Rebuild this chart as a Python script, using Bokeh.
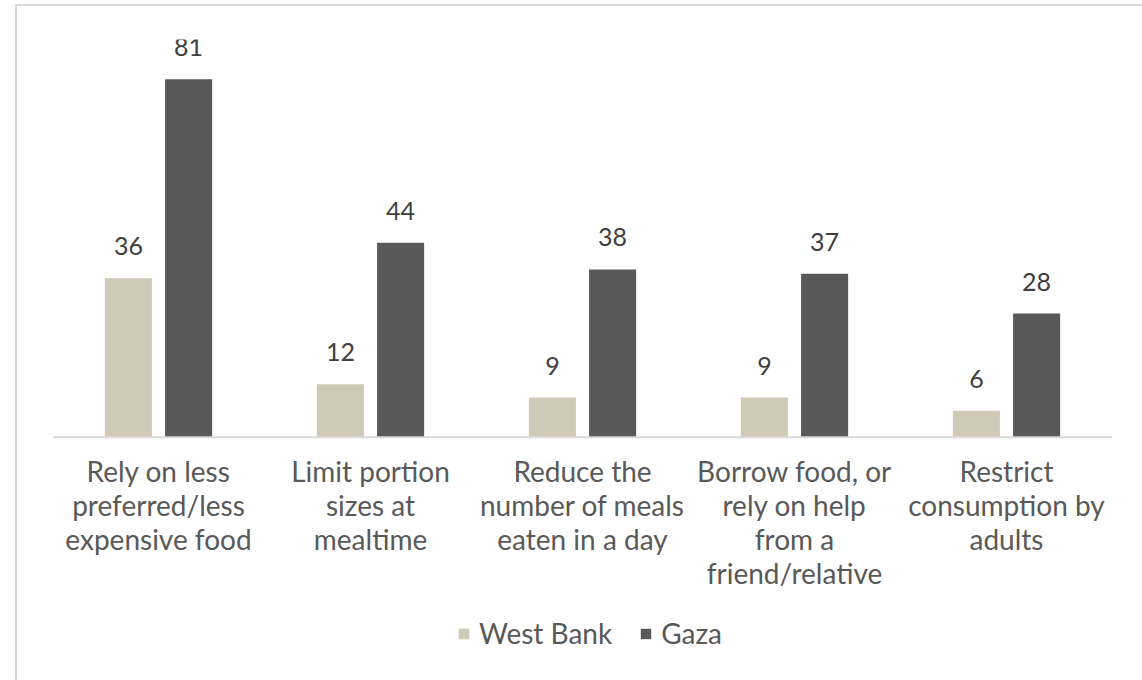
from bokeh.plotting import figure
from bokeh.models import FactorRange, ColumnDataSource, Legend, LegendItem, Span
from bokeh.transform import dodge
from bokeh.embed import file_html
from bokeh.resources import INLINE
from bokeh.core.properties import value

categories = [
    "Rely on less\npreferred/less\nexpensive food",
    "Limit portion\nsizes at\nmealtime",
    "Reduce the\nnumber of meals\neaten in a day",
    "Borrow food, or\nrely on help\nfrom a\nfriend/relative",
    "Restrict\nconsumption by\nadults",
]
west_bank = [36, 12, 9, 9, 6]
gaza = [81, 44, 38, 37, 28]
series_names = ["West Bank", "Gaza"]
series_colors = ["#d0c9b7", "#595959"]

FONT = "Lato"
TXT = "#595959"

source = ColumnDataSource(dict(
    cat=categories,
    wb=west_bank,
    gz=gaza,
    wb_lbl=[str(v) for v in west_bank],
    gz_lbl=[str(v) for v in gaza],
))

p = figure(
    x_range=FactorRange(*categories, range_padding=0),
    y_range=(-55, 90),
    frame_width=1060, frame_height=641,
    output_backend="svg", toolbar_location=None,
    x_axis_location=None, y_axis_location=None,
    min_border_left=35, min_border_right=30, min_border_top=33, min_border_bottom=0,
    margin=(4, 0, 0, 15),
    styles={"border-left": "2px solid #d9d9d9", "border-top": "2px solid #d9d9d9"},
)
p.outline_line_color = None
p.grid.visible = False

off = 0.142
bw = 0.222
r_wb = p.vbar(x=dodge("cat", -off, range=p.x_range), top="wb", width=bw, bottom=0,
              source=source, fill_color=series_colors[0], line_color=None)
r_gz = p.vbar(x=dodge("cat", off, range=p.x_range), top="gz", width=bw, bottom=0,
              source=source, fill_color=series_colors[1], line_color=None)

# baseline (category axis line)
p.add_layout(Span(location=0, dimension="width", line_color="#d9d9d9", line_width=2))

# value labels
for col, lbl, o in (("wb", "wb_lbl", -off), ("gz", "gz_lbl", off)):
    p.text(x=dodge("cat", o, range=p.x_range), y=col, text=lbl, source=source,
           text_align="center", text_baseline="alphabetic", y_offset=-32,
           text_font=value(FONT), text_font_size="25px", text_color="#404040")

# category labels under the baseline
p.text(x="cat", y=0, text="cat", source=source,
       text_align="center", text_baseline="top", y_offset=17,
       text_font=value(FONT), text_font_size="28px", text_line_height=1.0,
       text_color=TXT)

legend = Legend(items=[LegendItem(label=series_names[0], renderers=[r_wb]),
                       LegendItem(label=series_names[1], renderers=[r_gz])],
                orientation="horizontal", location=(405, 30),
                label_text_font=FONT, label_text_font_size="28px", label_text_color=TXT,
                glyph_width=13, glyph_height=13, label_standoff=9, spacing=27,
                border_line_color=None, background_fill_alpha=0, margin=0, padding=0)
p.add_layout(legend, "center")

open("out.html", "w").write(file_html(p, INLINE))
